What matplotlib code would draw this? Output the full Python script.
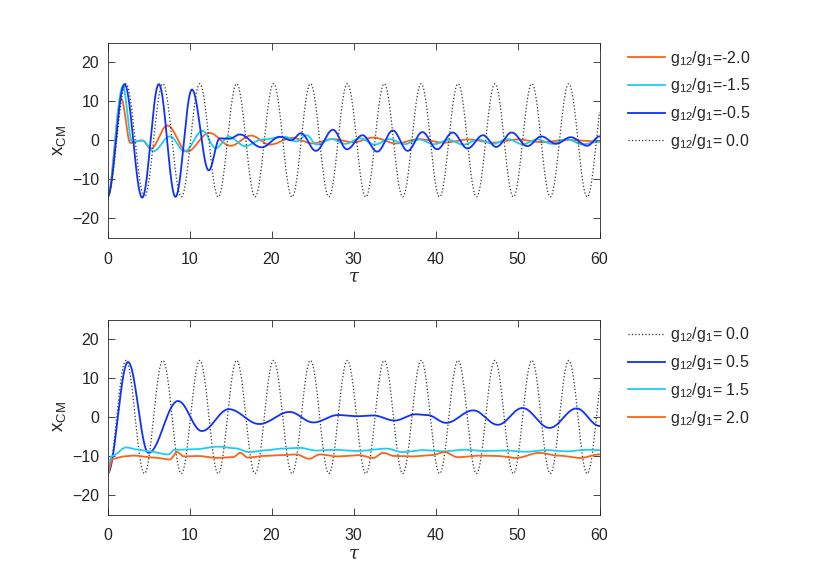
import numpy as np
import matplotlib
matplotlib.use("Agg")
import matplotlib.pyplot as plt

plt.rcParams['font.family'] = ['Liberation Sans', 'DejaVu Sans']
plt.rcParams['mathtext.fontset'] = 'custom'
plt.rcParams['mathtext.rm'] = 'Liberation Sans'
plt.rcParams['mathtext.it'] = 'Liberation Sans:italic'

# ---------------- data (extrema / key points) -------------
# free oscillation g12/g1 = 0.0 (both panels): extrema times and values
free_t = [0, 2.25, 4.5, 6.75, 9.0, 11.25, 13.5, 15.75, 18.0, 20.25, 22.5, 24.75,
          27.0, 29.25, 31.5, 33.75, 36.0, 38.25, 40.5, 42.75, 45.0, 47.25, 49.5,
          51.75, 54.0, 56.25, 58.5, 60.75]
free_v = [-14.5, 14.5, -14.5, 14.5, -14.5, 14.5, -14.5, 14.5, -14.5, 14.5, -14.5, 14.5,
          -14.5, 14.5, -14.5, 14.5, -14.5, 14.5, -14.5, 14.5, -14.5, 14.5, -14.5,
          14.5, -14.5, 14.5, -14.5, 14.5]

# top panel
m05_t = [0, 2.07, 4.23, 6.26, 8.29, 10.3, 12.35, 13.7, 14.9, 16.1, 18.8, 21.0, 22.4,
         23.6, 25.4, 27.5, 29.2, 31.1, 32.9, 34.8, 36.6, 38.4, 40.2, 42.1, 43.9, 45.8,
         47.4, 49.3, 51.2, 52.9, 54.7, 56.5, 58.5, 60]
m05_v = [-14.5, 14.4, -14.7, 14.4, -14.5, 13.0, -7.7, 0.5, 0.4, 1.5, -1.8, 0.9, 0.0,
         1.8, -2.7, 2.7, -2.3, 1.3, -2.9, 2.5, -2.7, 2.1, -2.3, 2.0, -2.1, 1.3,
         -1.7, 2.0, -1.5, 1.0, -0.9, 0.8, -1.4, 1.0]

m15_t = [0, 1.87, 3.0, 4.3, 5.6, 7.6, 9.4, 11.6, 13.2, 14.8, 16.8, 18.8, 21.7, 23.0,
         24.3, 25.5, 27.3, 29.0, 30.8, 32.6, 34.4, 36.2, 38.0, 39.8, 41.6, 43.4, 45.2,
         47.0, 48.8, 50.6, 52.4, 54.2, 56.0, 57.8, 60]
m15_v = [-14.5, 13.8, -0.4, -0.1, -2.8, 1.0, -2.8, 2.4, -2.0, 0.9, -1.5, 0.2, 0.9, -0.3,
         1.3, -1.1, 0.3, -0.9, 0.5, -1.1, 0.3, -1.0, 0.2, -1.0, 0.1, -1.1, 0.2,
         -0.9, 0.3, -1.0, 0.2, -0.9, 0.3, -1.0, -0.4]

m20_t = [0, 1.67, 2.8, 4.2, 5.3, 7.3, 9.7, 12.4, 15.0, 17.5, 19.8, 22.5, 25.0, 27.5,
         30.0, 32.4, 35.2, 38.0, 41.0, 44.0, 47.0, 50.0, 53.0, 56.0, 60]
m20_v = [-14.5, 10.7, -0.7, 0.0, -2.1, 3.8, -2.9, 1.9, -1.4, 1.2, -1.1, 0.6, -0.8, 0.3,
         -0.5, 0.7, -0.8, 0.3, -0.6, 0.2, -0.6, 0.2, -0.5, 0.1, -0.3]

# bottom panel
p05_t = [0, 2.5, 5.0, 8.6, 11.5, 14.8, 18.5, 22.2, 25.1, 28.1, 30.5, 32.4, 35.0, 37.6,
         39.0, 41.3, 44.6, 47.6, 50.6, 53.9, 57.2, 60]
p05_v = [-14.5, 14.1, -9.2, 4.1, -3.6, 2.0, -1.8, 1.3, -1.4, 0.5, 0.2, 0.4, -0.9, 0.7,
         0.5, -1.5, 1.7, -2.0, 2.3, -2.8, 2.2, -2.3]

p15_t = [0, 0.5, 2.3, 3.5, 5.0, 7.4, 8.2, 10.5, 13.5, 15.5, 17.3, 19.0, 21.3, 23.4,
         25.5, 27.5, 30.5, 34.0, 36.0, 38.5, 41.0, 43.5, 46.0, 48.5, 51.0, 53.5, 56.0,
         58.5, 60]
p15_v = [-14.5, -10.0, -7.8, -8.3, -8.8, -9.6, -8.4, -8.3, -7.6, -8.0, -9.0, -8.6, -8.1,
         -7.9, -8.6, -8.4, -8.7, -8.1, -9.0, -8.5, -8.8, -8.4, -8.7, -8.6, -8.9, -8.5,
         -8.8, -8.4, -8.5]

p20_t = [0, 0.65, 2.1, 3.1, 5.7, 7.6, 8.5, 9.3, 11.0, 13.3, 15.3, 16.2, 17.1, 19.0, 21.0,
         23.0, 24.6, 25.9, 28.0, 30.7, 32.4, 33.6, 35.0, 37.2, 39.5, 41.1, 42.7, 45.5,
         47.5, 49.8, 52.7, 55.0, 57.6, 60]
p20_v = [-14.5, -10.7, -10.1, -9.9, -10.4, -10.9, -9.0, -10.1, -10.0, -10.5, -10.3, -9.2,
         -10.4, -10.0, -9.8, -9.6, -10.7, -9.6, -10.1, -9.8, -10.5, -9.2, -10.0, -10.1,
         -9.8, -9.0, -10.3, -9.9, -10.0, -10.5, -9.2, -9.9, -10.5, -9.6]

top_labels = ['$\\mathregular{g_{12}/g_1}$=-2.0', '$\\mathregular{g_{12}/g_1}$=-1.5',
              '$\\mathregular{g_{12}/g_1}$=-0.5', '$\\mathregular{g_{12}/g_1}$= 0.0']
bot_labels = ['$\\mathregular{g_{12}/g_1}$= 0.0', '$\\mathregular{g_{12}/g_1}$= 0.5',
              '$\\mathregular{g_{12}/g_1}$= 1.5', '$\\mathregular{g_{12}/g_1}$= 2.0']
xticks = [0, 10, 20, 30, 40, 50, 60]
yticks = [-20, -10, 0, 10, 20]

# ---------------- smooth drawing through key points ----------------
tau = np.linspace(0, 60, 3000)

def smooth(tk, vk, t):
    tk = np.asarray(tk, float)
    vk = np.asarray(vk, float)
    i = np.clip(np.searchsorted(tk, t, side='right') - 1, 0, len(tk) - 2)
    f = (t - tk[i]) / (tk[i + 1] - tk[i])
    s = (1 - np.cos(np.pi * f)) / 2
    return vk[i] + (vk[i + 1] - vk[i]) * s

C_OR = '#f8641c'
C_CY = '#1fcdf2'
C_BL = '#0f30ff'
C_DOT = '#333333'
AX_C = '#262626'

fig = plt.figure(figsize=(8.3, 5.83), dpi=100)
ax1 = fig.add_axes([107.5 / 830, 1 - 237.8 / 583, 492 / 830, 195 / 583])
ax2 = fig.add_axes([107.5 / 830, 1 - 514.5 / 583, 492 / 830, 195 / 583])

ax1.plot(tau, smooth(m20_t, m20_v, tau), color=C_OR, lw=1.3, label=top_labels[0])
ax1.plot(tau, smooth(m15_t, m15_v, tau), color=C_CY, lw=1.3, label=top_labels[1])
ax1.plot(tau, smooth(m05_t, m05_v, tau), color=C_BL, lw=1.3, label=top_labels[2])
ax1.plot(tau, smooth(free_t, free_v, tau), color=C_DOT, lw=0.9, ls=(0, (1, 1.7)),
         label=top_labels[3])

ax2.plot(tau, smooth(free_t, free_v, tau), color=C_DOT, lw=0.9, ls=(0, (1, 1.7)),
         label=bot_labels[0])
ax2.plot(tau, smooth(p05_t, p05_v, tau), color=C_BL, lw=1.3, label=bot_labels[1])
ax2.plot(tau, smooth(p15_t, p15_v, tau), color=C_CY, lw=1.3, label=bot_labels[2])
ax2.plot(tau, smooth(p20_t, p20_v, tau), color=C_OR, lw=1.3, label=bot_labels[3])

for ax in (ax1, ax2):
    ax.set_xlim(0, 60)
    ax.set_ylim(-25, 25)
    ax.set_xticks(xticks)
    ax.set_yticks(yticks)
    ax.tick_params(direction='in', top=True, right=True, length=5, width=0.6,
                   labelsize=11.5, colors=AX_C)
    ax.tick_params(axis='x', pad=10)
    ax.tick_params(axis='y', pad=6)
    for sp in ax.spines.values():
        sp.set_linewidth(0.6)
        sp.set_color(AX_C)
    ax.set_xlabel('τ', fontsize=13, family='DejaVu Serif', style='italic',
                  color=AX_C, labelpad=1)
    ax.set_ylabel('x$_{\\mathregular{CM}}$', fontsize=13.5, color=AX_C, labelpad=3)
    leg = ax.legend(loc='upper left', bbox_to_anchor=(1.058, 0.97), frameon=False,
                    fontsize=11.5, handlelength=2.3, handletextpad=0.3,
                    labelspacing=0.55, borderaxespad=0, borderpad=0)
    for t in leg.get_texts():
        t.set_color(AX_C)

fig.savefig('out.png', dpi=100)
